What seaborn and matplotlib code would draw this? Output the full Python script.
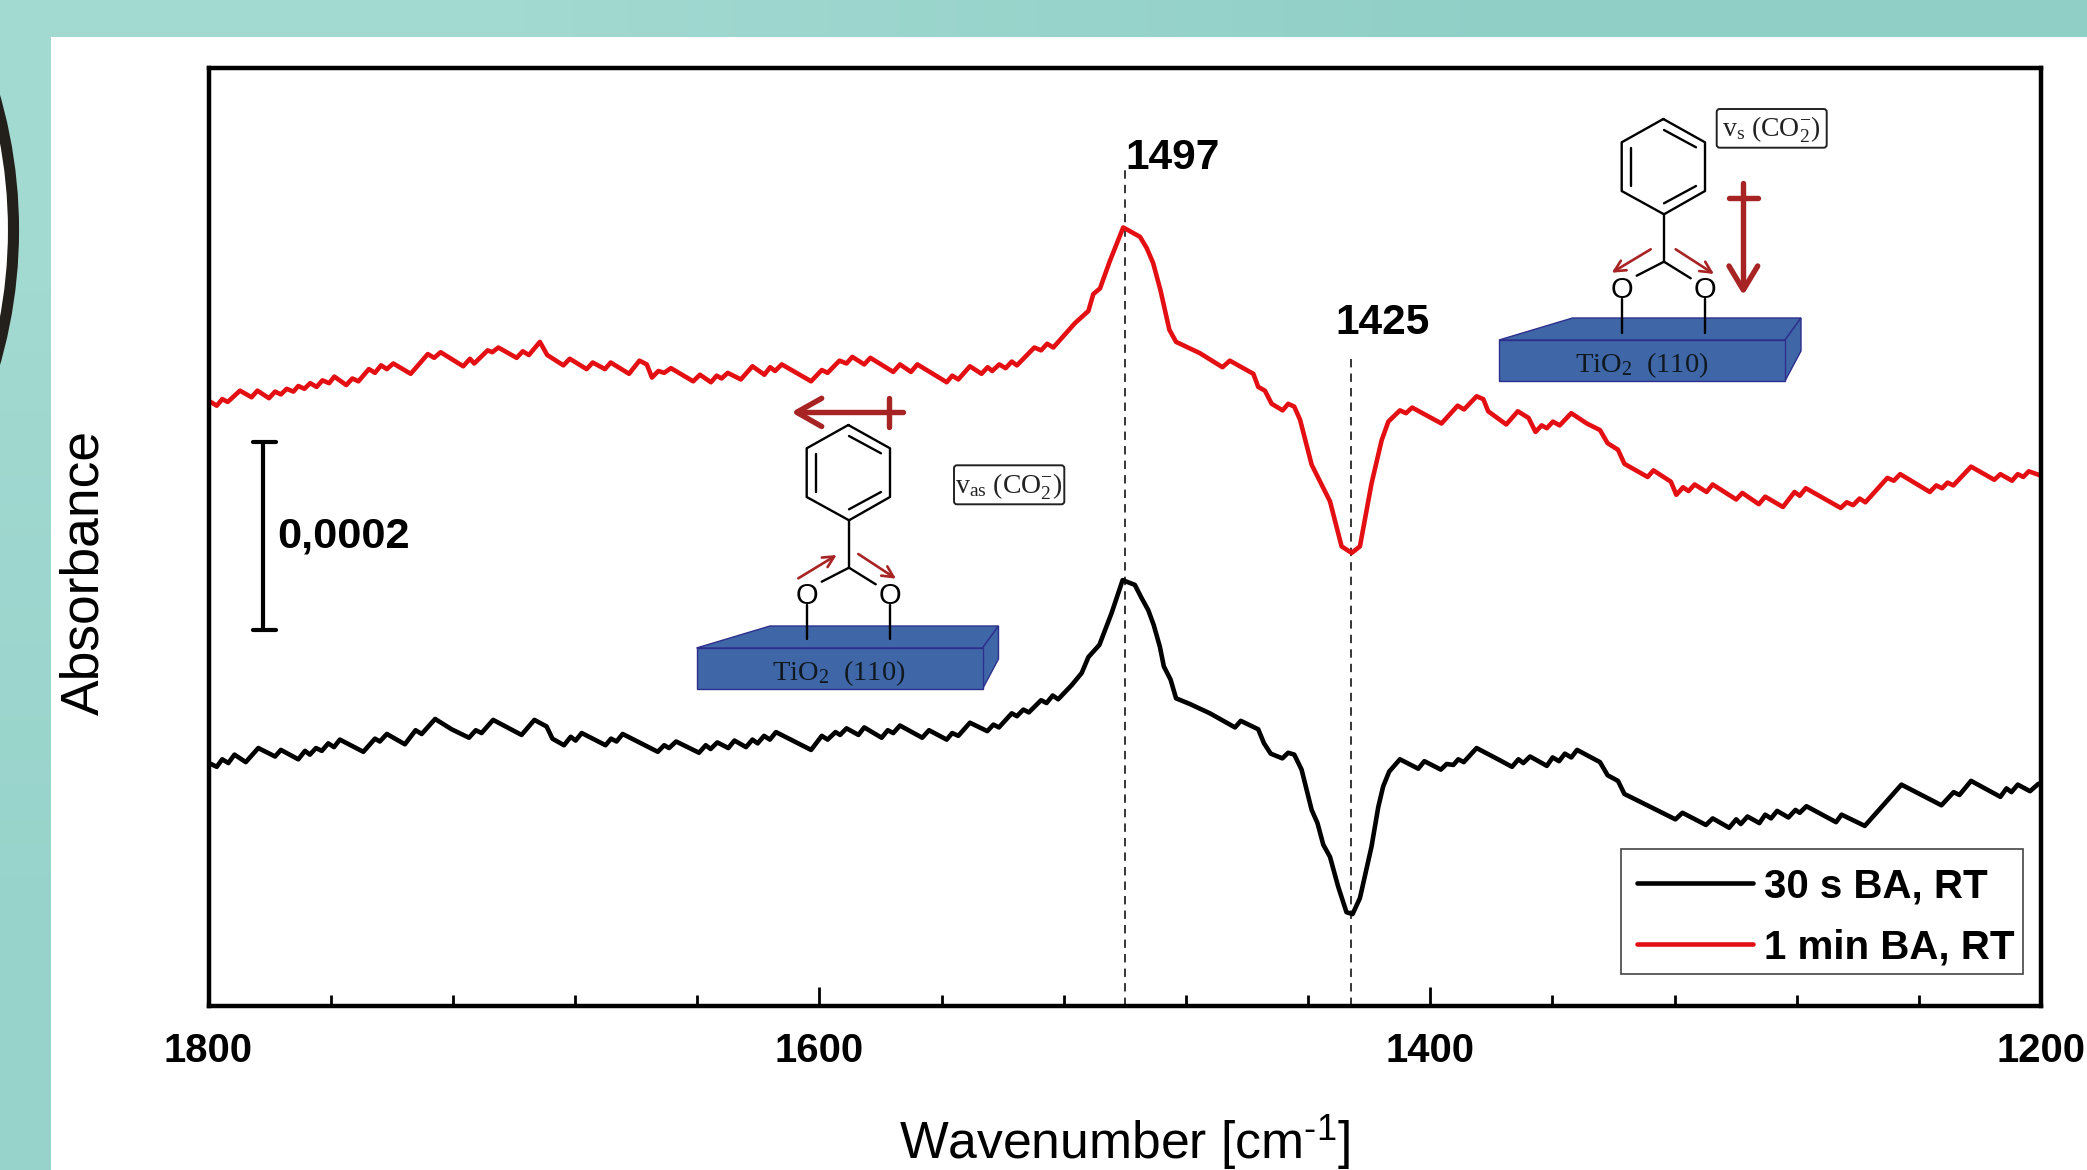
import numpy as np
import pandas as pd
import seaborn as sns
import matplotlib.pyplot as plt
from matplotlib.colors import LinearSegmentedColormap
from matplotlib.patches import Circle, Polygon, Rectangle, FancyBboxPatch

# wavenumber in cm-1, absorbance in units of 1e-4
wn_30s = [1799.8, 1797.3, 1795.5, 1793.5, 1791.5, 1787.8, 1783.7, 1778.2, 1776.3, 1770.6, 1768.4, 1766.8, 1764.8, 1762.9, 1760.8,
          1758.9, 1757.0, 1749.3, 1745.5, 1743.9, 1741.6, 1735.7, 1732.2, 1730.2, 1725.8, 1720.4, 1714.7, 1712.5, 1710.6, 1706.8,
          1697.5, 1693.3, 1689.3, 1687.4, 1683.6, 1681.4, 1679.8, 1677.8, 1670.0, 1668.2, 1666.4, 1664.4, 1652.9, 1650.8,
          1649.2, 1646.9, 1639.4, 1637.2, 1635.6, 1633.4, 1629.8, 1627.8, 1624.0, 1621.9, 1620.2, 1618.1, 1616.2, 1614.2, 1602.7,
          1599.2, 1597.3, 1594.7, 1593.2, 1591.1, 1587.2, 1585.3, 1579.6, 1577.6, 1575.8, 1573.6, 1566.3, 1564.1, 1558.3, 1556.5,
          1554.5, 1550.7, 1545.0, 1543.0, 1541.2, 1537.0, 1535.3, 1533.2, 1531.4, 1527.4, 1525.6, 1523.6, 1521.8,
          1517.4, 1514.1, 1511.9, 1508.3, 1504.3, 1500.7, 1496.7, 1494.5, 1492.3, 1490.5, 1488.5, 1487.2, 1485.0, 1483.2, 1478.7,
          1472.1, 1463.9, 1462.0, 1456.3, 1454.4, 1452.2, 1448.4, 1446.5, 1444.5, 1442.1, 1438.8, 1436.9, 1435.0, 1432.8, 1430.1,
          1427.4, 1425.4, 1423.0, 1419.2, 1417.0, 1415.4, 1413.4, 1409.9, 1403.9, 1401.9, 1396.5, 1394.6, 1392.4, 1390.8, 1389.0,
          1384.8, 1377.2, 1373.2, 1371.1, 1369.5, 1367.3, 1361.8, 1359.9, 1357.8, 1355.9, 1353.8, 1351.9, 1344.4, 1341.9, 1338.5,
          1336.4, 1334.5, 1319.7, 1317.4, 1309.7, 1307.5, 1302.1, 1299.8, 1298.3, 1296.1, 1292.2, 1290.3, 1288.4, 1286.4, 1282.7,
          1280.4, 1279.0, 1276.8, 1267.1, 1265.3, 1257.7, 1245.7, 1232.6, 1228.6, 1226.7, 1222.9, 1213.3, 1211.3, 1209.7, 1207.6,
          1203.6, 1200.8]
abs_30s = [2.59, 2.55, 2.63, 2.59, 2.68, 2.60, 2.75, 2.66, 2.73, 2.63, 2.72, 2.68, 2.75, 2.72, 2.80,
           2.76, 2.84, 2.71, 2.85, 2.82, 2.90, 2.79, 2.94, 2.90, 3.06, 2.95, 2.86, 2.94, 2.91, 3.05,
           2.89, 3.05, 2.98, 2.85, 2.78, 2.87, 2.83, 2.91, 2.78, 2.85, 2.82, 2.90, 2.71, 2.78,
           2.75, 2.82, 2.70, 2.78, 2.74, 2.81, 2.75, 2.83, 2.76, 2.84, 2.80, 2.88, 2.84, 2.92, 2.73,
           2.88, 2.84, 2.92, 2.89, 2.96, 2.89, 2.97, 2.86, 2.94, 2.91, 2.99, 2.86, 2.94, 2.84, 2.91,
           2.88, 3.02, 2.93, 3.00, 2.97, 3.12, 3.09, 3.16, 3.13, 3.26, 3.23, 3.31, 3.27,
           3.42, 3.55, 3.72, 3.85, 4.19, 4.54, 4.49, 4.35, 4.22, 4.06, 3.83, 3.62, 3.48, 3.28, 3.22,
           3.12, 2.97, 3.04, 2.95, 2.80, 2.69, 2.64, 2.70, 2.68, 2.52, 2.09, 1.95, 1.72, 1.59, 1.27,
           1.00, 0.98, 1.15, 1.70, 2.12, 2.34, 2.50, 2.63, 2.53, 2.61, 2.52, 2.58, 2.57, 2.63, 2.60,
           2.75, 2.62, 2.55, 2.63, 2.59, 2.66, 2.56, 2.65, 2.61, 2.69, 2.65, 2.73, 2.60, 2.46, 2.40,
           2.26, 2.23, 1.99, 2.06, 1.93, 2.00, 1.90, 1.99, 1.94, 2.02, 1.95, 2.04, 2.00, 2.08, 2.01,
           2.09, 2.06, 2.13, 1.96, 2.04, 1.92, 2.36, 2.14, 2.28, 2.25, 2.40, 2.23, 2.32, 2.28, 2.36,
           2.29, 2.37]

wn_1min = [1799.8, 1797.3, 1795.5, 1793.7, 1789.7, 1785.9, 1784.0, 1780.2, 1778.2, 1776.3, 1774.4, 1772.2, 1770.6, 1768.6, 1766.7,
           1764.6, 1762.7, 1760.5, 1758.8, 1754.9, 1752.9, 1750.9, 1747.5, 1745.5, 1743.5, 1741.6, 1739.5, 1733.8, 1728.2, 1726.1,
           1724.0, 1716.6, 1714.4, 1713.0, 1708.6, 1707.1, 1705.1, 1699.1, 1697.1, 1695.1, 1691.5, 1689.1, 1683.8, 1681.7, 1676.2,
           1674.2, 1670.2, 1668.3, 1662.3, 1658.9, 1656.5, 1654.8, 1652.7, 1650.8,
           1648.6, 1641.3, 1639.1, 1635.5, 1633.6, 1632.0, 1630.0, 1625.7, 1621.9, 1618.0, 1616.1, 1614.5, 1612.3, 1602.7, 1599.2,
           1597.3, 1593.4, 1591.1, 1589.2, 1585.3, 1583.3, 1575.8, 1573.6, 1570.0, 1567.9, 1558.3, 1556.5, 1554.5, 1550.7, 1546.9,
           1544.9, 1543.4, 1541.1, 1539.0, 1537.0, 1535.3, 1529.6, 1527.4, 1525.4, 1523.4,
           1516.3, 1511.9, 1510.3, 1508.1, 1504.9, 1500.5, 1495.0, 1492.8, 1490.7, 1488.3, 1485.4, 1483.2, 1475.4, 1468.0, 1465.6,
           1457.9, 1456.3, 1454.1, 1451.9, 1448.3, 1446.5, 1444.5, 1442.6, 1438.8, 1432.8, 1429.0, 1425.7, 1423.0, 1419.2, 1415.9,
           1413.7, 1409.9, 1407.9, 1405.9, 1396.3, 1391.0, 1388.9, 1384.8, 1382.6, 1381.0, 1377.2,
           1375.1, 1371.3, 1367.8, 1365.5, 1363.5, 1361.8, 1359.8, 1357.6, 1353.8, 1348.7, 1344.4, 1341.9, 1338.5, 1336.4, 1328.8,
           1326.9, 1321.2, 1319.4, 1317.2, 1315.4, 1313.4, 1309.5, 1307.5, 1299.8, 1297.8, 1292.4, 1290.3, 1284.5, 1280.7, 1279.0,
           1277.0, 1265.6, 1263.6, 1261.5, 1259.4, 1257.5, 1250.3, 1248.2, 1246.1, 1236.4, 1234.3, 1232.4, 1230.6, 1228.7, 1222.9,
           1215.3, 1213.3, 1209.5, 1207.6, 1205.8, 1204.0, 1200.5]
abs_1min = [6.45, 6.40, 6.47, 6.44, 6.56, 6.49, 6.56, 6.48, 6.55, 6.52, 6.58, 6.55, 6.61, 6.58, 6.64,
            6.60, 6.67, 6.64, 6.71, 6.62, 6.69, 6.66, 6.79, 6.75, 6.83, 6.79, 6.85, 6.74, 6.95, 6.91,
            6.97, 6.82, 6.90, 6.85, 6.99, 6.97, 7.02, 6.91, 6.98, 6.94, 7.08, 6.94, 6.83, 6.90, 6.79,
            6.86, 6.79, 6.86, 6.74, 6.88, 6.84, 6.70, 6.77, 6.75,
            6.80, 6.66, 6.73, 6.65, 6.72, 6.69, 6.75, 6.68, 6.82, 6.73, 6.81, 6.77, 6.84, 6.66, 6.78,
            6.75, 6.88, 6.85, 6.92, 6.84, 6.91, 6.76, 6.84, 6.76, 6.84, 6.65, 6.72, 6.68, 6.82, 6.74,
            6.81, 6.77, 6.84, 6.80, 6.87, 6.83, 7.02, 6.99, 7.06, 7.02,
            7.28, 7.41, 7.59, 7.65, 7.94, 8.30, 8.20, 8.08, 7.92, 7.63, 7.21, 7.08, 6.96, 6.81, 6.88,
            6.74, 6.60, 6.56, 6.42, 6.35, 6.42, 6.39, 6.25, 5.77, 5.38, 4.90, 4.83, 4.90, 5.57, 6.03,
            6.23, 6.35, 6.32, 6.38, 6.21, 6.40, 6.36, 6.50, 6.47, 6.34, 6.25,
            6.20, 6.34, 6.27, 6.12, 6.19, 6.16, 6.23, 6.19, 6.32, 6.21, 6.14, 6.00, 5.93, 5.78, 5.64,
            5.71, 5.59, 5.45, 5.53, 5.49, 5.56, 5.48, 5.56, 5.40, 5.47, 5.35, 5.43, 5.32, 5.48, 5.44,
            5.52, 5.31, 5.37, 5.34, 5.41, 5.37, 5.63, 5.60, 5.67, 5.48, 5.55, 5.52, 5.58, 5.55, 5.75,
            5.61, 5.67, 5.60, 5.67, 5.64, 5.70, 5.66]

series_names = ['30 s BA, RT', '1 min BA, RT']
series_colors = ['#000000', '#E30F13']
major_ticks = [1800, 1600, 1400, 1200]
minor_ticks = [1760, 1720, 1680, 1640, 1560, 1520, 1480, 1440, 1360, 1320, 1280, 1240]
peak_positions = [1500, 1426]
peak_tops = [8.92, 6.94]
peak_labels = ['1497', '1425']

sns.set_style('white')
plt.rcParams['font.family'] = ['Liberation Sans', 'DejaVu Sans']
plt.rcParams['mathtext.default'] = 'regular'
plt.rcParams['text.color'] = 'black'
plt.rcParams['axes.labelcolor'] = 'black'
plt.rcParams['xtick.color'] = 'black'

W, H = 2087, 1170
df = pd.concat([
    pd.DataFrame({'wn': wn_30s, 'abs': abs_30s, 'series': series_names[0]}),
    pd.DataFrame({'wn': wn_1min, 'abs': abs_1min, 'series': series_names[1]}),
])

fig = plt.figure(figsize=(W / 100, H / 100), dpi=100)

# slide background: teal frame, white panel, ring on the left
bg = fig.add_axes([0, 0, 1, 1], zorder=-1)
teal = LinearSegmentedColormap.from_list('teal', ['#A2D9D1', '#8FCFC6'])
bg.imshow([[0, 1], [0.5, 1]], cmap=teal, extent=(0, W, H, 0), aspect='auto', interpolation='bilinear', vmin=0, vmax=1)
bg.add_patch(Rectangle((51, 37), W - 51, H - 37, fc='white', ec='none'))
bg.add_patch(Circle((-470, 230), 483.5, fc='white', ec='#231F1A', lw=8))
bg.set_xlim(0, W)
bg.set_ylim(H, 0)
bg.axis('off')

# main plot
ax = fig.add_axes([208.5 / W, (H - 1006) / H, 1832.5 / W, 938 / H], zorder=1)
sns.lineplot(data=df, x='wn', y='abs', hue='series', hue_order=series_names, palette=series_colors,
             estimator=None, sort=False, lw=3.3, legend=False, ax=ax)
ax.set_xlim(1800, 1200)
ax.set_ylim(0, 10)
ax.set_yticks([])
ax.set_xticks(major_ticks)
ax.set_xticklabels([str(t) for t in major_ticks], fontsize=28.8, fontweight='bold')
ax.set_xticks(minor_ticks, minor=True)
ax.tick_params(axis='x', which='major', direction='in', length=14, width=2, pad=19, bottom=True)
ax.tick_params(axis='x', which='minor', direction='in', length=8, width=2, bottom=True)
for s in ax.spines.values():
    s.set_linewidth(3.2)
    s.set_color('black')
ax.set_xlabel('Wavenumber [cm$^{\u20101}$]', fontsize=37.2, labelpad=30)
ax.set_ylabel('Absorbance', fontsize=38.4)
ax.yaxis.set_label_coords(-0.054, 0.462)

for pos, top in zip(peak_positions, peak_tops):
    ax.plot([pos, pos], [0, top], color='black', lw=1.1, dashes=(5.5, 4), zorder=1)

lines = ax.get_lines()[:2]
leg = ax.legend(lines, series_names, loc='upper left', bbox_to_anchor=(1637 / W, (H - 867) / H),
                bbox_transform=fig.transFigure, frameon=False, borderpad=0, borderaxespad=0,
                handlelength=2.88, handletextpad=0.27, labelspacing=0.58,
                prop={'family': 'Liberation Sans', 'weight': 'bold', 'size': 29})

# annotations in reference pixels
ov = fig.add_axes([0, 0, 1, 1], zorder=5)
ov.set_xlim(0, W)
ov.set_ylim(H, 0)
ov.axis('off')
ov.patch.set_alpha(0)

ov.add_patch(Rectangle((1621, 849), 402, 125, fc='none', ec='#444444', lw=1.2))

# scale bar
ov.plot([263, 263], [442, 630], color='black', lw=3)
ov.plot([253, 276], [442, 442], color='black', lw=3)
ov.plot([253, 276], [630, 630], color='black', lw=3)
ov.text(277, 536, '0,0002', fontsize=31.2, fontweight='bold', va='center', ha='left')

ov.text(1125, 158, peak_labels[0], fontsize=30.5, fontweight='bold', va='center', ha='left')
ov.text(1335, 323, peak_labels[1], fontsize=30.5, fontweight='bold', va='center', ha='left')

ARROW = '#A82424'
SERIF = ['Liberation Serif', 'DejaVu Serif']


def slab(dx, dy):
    blue = '#3F67A8'
    edge = '#2E2F8C'
    ov.add_patch(Polygon([(1499 + dx, 340 + dy), (1572.5 + dx, 318 + dy), (1801 + dx, 318 + dy), (1785 + dx, 340 + dy)],
                         fc=blue, ec=edge, lw=1))
    ov.add_patch(Polygon([(1785 + dx, 340 + dy), (1801 + dx, 318 + dy), (1801 + dx, 351 + dy), (1785 + dx, 381 + dy)],
                         fc=blue, ec=edge, lw=1))
    ov.add_patch(Rectangle((1499 + dx, 340 + dy), 286, 41, fc=blue, ec=edge, lw=1))
    ov.text(1641.5 + dx, 365 + dy, 'TiO$_{2}$  (110)', fontsize=20.5, family=SERIF, ha='center', va='center', color='#101820')


def molecule(dx, dy):
    k = dict(color='black', lw=1.7, solid_capstyle='round')
    hx = [1663.3, 1705, 1705, 1664, 1621.7, 1621.7, 1663.3]
    hy = [119, 142.3, 191, 214.3, 191, 142.3, 119]
    ov.plot([x + dx for x in hx], [y + dy for y in hy], **k)
    ov.plot([1664 + dx, 1696 + dx], [130 + dy, 147.3 + dy], **k)
    ov.plot([1631 + dx, 1631 + dx], [148.3 + dy, 185.7 + dy], **k)
    ov.plot([1664 + dx, 1696 + dx], [203.3 + dy, 186 + dy], **k)
    ov.plot([1664 + dx, 1664 + dx], [214.3 + dy, 261.7 + dy], **k)
    ov.plot([1664 + dx, 1636.7 + dx], [261.7 + dy, 275.7 + dy], **k)
    ov.plot([1664 + dx, 1690.7 + dx], [261.7 + dy, 278.3 + dy], **k)
    ov.plot([1622 + dx, 1622 + dx], [299.3 + dy, 333.3 + dy], **k)
    ov.plot([1705.3 + dx, 1705.3 + dx], [299.3 + dy, 333.3 + dy], **k)
    ov.text(1622 + dx, 290 + dy, 'O', fontsize=21, ha='center', va='center')
    ov.text(1705.3 + dx, 290 + dy, 'O', fontsize=21, ha='center', va='center')


def small_arrow(x0, y0, x1, y1):
    ov.annotate('', xy=(x1, y1), xytext=(x0, y0),
                arrowprops=dict(arrowstyle='->', color=ARROW, lw=1.9, mutation_scale=20, shrinkA=0, shrinkB=0))


def mode_box(x0, y0, x1, y1, label):
    ov.add_patch(FancyBboxPatch((x0 + 2, y0 + 2), x1 - x0 - 4, y1 - y0 - 4, boxstyle='round,pad=2,rounding_size=3',
                                fc='white', ec='#222222', lw=1.4))
    ov.text((x0 + x1) / 2, (y0 + y1) / 2 + 1.5, label, fontsize=20, family=SERIF, ha='center', va='center', color='#222222')


# right schematic
slab(0, 0)
molecule(0, 0)
small_arrow(1650.7, 249.3, 1611.7, 272.7)
small_arrow(1675.7, 249.3, 1714, 274)
ov.plot([1743.3, 1743.3], [183.3, 288], color=ARROW, lw=3.9)
ov.plot([1729, 1757.7], [197.7, 197.7], color=ARROW, lw=3.9)
ov.plot([1729, 1743.3, 1757.7], [266, 290, 266], color=ARROW, lw=3.9)
mode_box(1716.7, 109, 1826.7, 147.7, 'v$_{s}$ (CO$_{2}^{-}$)')

# left schematic
slab(-802.5, 308)
molecule(-815, 306)
small_arrow(798.3, 578.3, 836.7, 555)
small_arrow(858.3, 554, 896, 578.7)
ov.plot([903.3, 798], [412.3, 412.3], color=ARROW, lw=3.9)
ov.plot([889, 889], [398.3, 426.7], color=ARROW, lw=3.9)
ov.plot([821.7, 796.7, 821.7], [398.3, 412.3, 426.5], color=ARROW, lw=3.9)
mode_box(954, 465.3, 1064.3, 504.3, 'v$_{as}$ (CO$_{2}^{-}$)')

fig.savefig('out.png', dpi=100)
